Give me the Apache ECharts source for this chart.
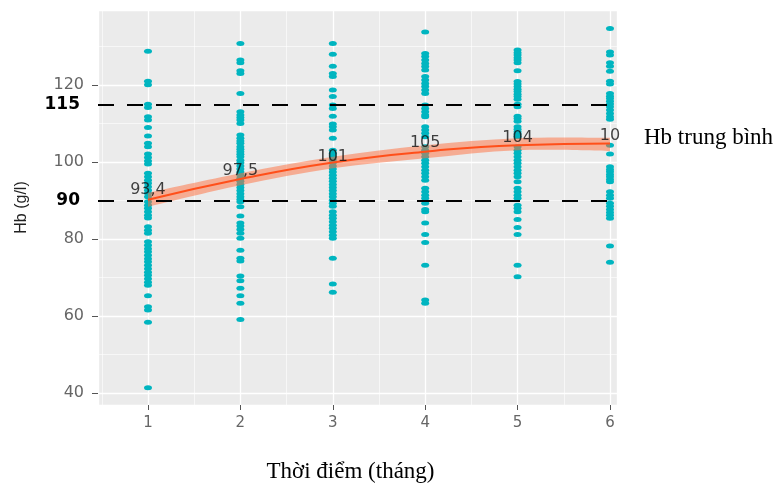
<!DOCTYPE html>
<html>
<head>
<meta charset="utf-8">
<script src="https://cdn.jsdelivr.net/npm/echarts@6/dist/echarts.min.js"></script>
<style>
  html, body { margin: 0; padding: 0; background: #fff; }
  #main { width: 779px; height: 484px; }
</style>
</head>
<body>
<div id="main"></div>
<script>
// thoi diem (thang)
var timePoints = [1, 2, 3, 4, 5, 6];

// Hb cua tung benh nhan o moi thoi diem (g/l)
var hb1 = [128.8, 121.0, 120.1, 115.0, 114.2, 111.8, 110.9, 109.0, 106.8, 104.9, 104.0, 102.1, 101.2, 100.3, 99.5,
    97.1, 96.2, 95.3, 94.5, 93.6, 92.7, 91.9, 91.0, 89.7, 88.8, 88.0, 87.1, 86.2, 85.5, 83.2, 82.3, 81.5,
    79.3, 78.4, 77.5, 76.7, 75.8, 74.9, 74.1, 73.2, 72.3, 71.4, 70.6, 69.7, 68.8, 68.0, 65.3, 62.4, 61.6, 58.4, 41.4];
var hb2 = [130.8, 126.5, 125.8, 123.7, 123.0, 117.8, 113.1, 112.2, 111.6, 110.9, 110.0, 107.0, 106.2, 105.5, 104.9,
    104.0, 103.3, 102.7, 102.0, 101.4, 100.5, 99.8, 99.0, 98.2, 97.4, 96.6, 95.8, 95.0, 94.2, 93.4, 92.6, 91.8,
    91.0, 90.3, 89.7, 88.4, 86.0, 84.2, 83.4, 82.5, 81.5, 80.2, 77.1, 75.0, 74.3, 70.4, 69.2, 67.2, 65.3, 63.3, 59.1];
var hb3 = [130.8, 128.0, 124.9, 123.0, 122.2, 118.7, 117.0, 114.8, 113.9, 111.9, 109.9, 109.2, 108.3, 106.2, 103.1,
    102.3, 101.4, 100.6, 99.8, 99.0, 98.2, 97.4, 96.6, 95.8, 95.0, 94.2, 93.4, 92.6, 91.8, 91.0, 90.1, 89.3, 88.5,
    87.1, 86.2, 85.4, 84.5, 83.6, 82.8, 81.9, 81.0, 80.2, 75.0, 68.3, 66.2];
var hb4 = [133.8, 128.2, 127.4, 126.5, 125.6, 124.8, 123.9, 122.2, 121.3, 120.4, 119.6, 118.7, 117.8, 114.8, 113.9,
    113.1, 112.2, 111.8, 109.2, 108.3, 107.5, 106.6, 104.0, 103.1, 102.3, 101.4, 100.5, 99.7, 98.8, 97.9, 97.1,
    96.2, 95.3, 93.2, 92.3, 91.4, 90.6, 89.3, 87.7, 87.1, 84.2, 81.2, 79.1, 73.2, 64.2, 63.3];
var hb5 = [129.1, 128.4, 127.8, 127.1, 126.5, 125.8, 123.7, 120.9, 120.3, 119.6, 118.9, 118.3, 117.6, 117.0, 116.3,
    115.0, 114.4, 111.9, 111.3, 110.6, 109.2, 108.5, 107.9, 107.3, 106.6, 104.0, 103.1, 102.3, 101.4, 100.5, 99.7,
    98.8, 97.9, 97.1, 96.2, 94.9, 93.2, 92.3, 91.4, 90.6, 88.8, 88.0, 87.1, 85.1, 83.0, 81.2, 73.2, 70.2];
var hb6 = [134.7, 128.6, 127.8, 125.8, 124.9, 123.6, 121.0, 120.3, 117.8, 117.1, 116.5, 115.8, 115.1, 114.4, 113.5,
    112.6, 111.8, 111.1, 104.4, 102.1, 98.8, 98.1, 97.5, 96.8, 96.2, 95.5, 94.9, 92.3, 91.4, 90.6, 89.3, 88.5,
    87.7, 86.9, 86.2, 85.4, 78.2, 74.0];

// duong Hb trung binh va khoang tin cay
var meanHb = [90.2, 95.6, 99.9, 102.7, 104.4, 104.8];
var ciLower = [88.4, 94.0, 98.4, 101.0, 103.1, 102.9];
var ciUpper = [92.0, 97.1, 101.4, 104.4, 106.2, 106.3];

// nhan gia tri trung binh
var meanLabels = ['93,4', '97,5', '101', '105', '104', '10'];
var meanLabelY = [92.8, 97.8, 101.3, 104.9, 106.3, 106.7];

// nguong tham chieu
var refLines = [115, 90];

var hbByTime = [hb1, hb2, hb3, hb4, hb5, hb6];
var pointData = [];
hbByTime.forEach(function (arr, i) {
    arr.forEach(function (v) {
        pointData.push([timePoints[i], v]);
    });
});

function pairs(xs, ys) {
    return xs.map(function (x, i) { return [x, ys[i]]; });
}

// duong cong Catmull-Rom qua cac diem pixel -> doan lenh SVG
function curveCmds(p) {
    var s = '';
    for (var i = 0; i < p.length - 1; i++) {
        var p0 = p[Math.max(i - 1, 0)], p1 = p[i], p2 = p[i + 1], p3 = p[Math.min(i + 2, p.length - 1)];
        var c1x = p1[0] + (p2[0] - p0[0]) / 6, c1y = p1[1] + (p2[1] - p0[1]) / 6;
        var c2x = p2[0] - (p3[0] - p1[0]) / 6, c2y = p2[1] - (p3[1] - p1[1]) / 6;
        s += ' C' + c1x + ',' + c1y + ' ' + c2x + ',' + c2y + ' ' + p2[0] + ',' + p2[1];
    }
    return s;
}

var myChart = echarts.init(document.getElementById('main'));

var option = {
    animation: false,
    grid: {
        left: 98,
        right: 162,
        top: 10,
        bottom: 79,
        outerBoundsMode: 'none',
        show: true,
        backgroundColor: '#EBEBEB',
        borderWidth: 0
    },
    xAxis: {
        type: 'value',
        min: 0.459,
        max: 6.076,
        name: 'Thời điểm (tháng)',
        nameLocation: 'middle',
        nameGap: 55,
        nameTextStyle: {
            fontFamily: 'Liberation Serif',
            fontSize: 23,
            color: '#000',
            padding: [0, 14, 0, 0]
        },
        axisLine: { show: false },
        axisTick: { show: true, length: 5, lineStyle: { color: '#555' } },
        axisLabel: {
            color: '#666',
            fontFamily: 'DejaVu Sans',
            fontSize: 15,
            margin: 11,
            showMinLabel: false,
            showMaxLabel: false,
            formatter: function (v) { return Number.isInteger(v) ? String(v) : ''; }
        },
        splitLine: { show: true, lineStyle: { color: '#fff', width: 1.3 } },
        minorTick: { show: false, splitNumber: 2 },
        minorSplitLine: { show: true, lineStyle: { color: '#fff', width: 0.6 } }
    },
    yAxis: {
        type: 'value',
        min: 36.9,
        max: 139.5,
        name: 'Hb (g/l)',
        nameLocation: 'middle',
        nameRotate: 90,
        nameGap: 68,
        nameTextStyle: {
            fontFamily: 'Liberation Sans',
            fontSize: 16,
            color: '#222'
        },
        axisLine: { show: false },
        axisTick: { show: true, length: 6, lineStyle: { color: '#555' } },
        axisLabel: {
            color: '#666',
            fontFamily: 'DejaVu Sans',
            fontSize: 16,
            margin: 14,
            showMinLabel: false,
            showMaxLabel: false,
            formatter: function (v) { return v % 20 === 0 ? String(v) : ''; }
        },
        splitLine: { show: true, lineStyle: { color: '#fff', width: 1.3 } },
        minorTick: { show: false, splitNumber: 2 },
        minorSplitLine: { show: true, lineStyle: { color: '#fff', width: 0.6 } }
    },
    graphic: [{
        type: 'text',
        left: 644,
        top: 126,
        style: {
            text: 'Hb trung bình',
            fontFamily: 'Liberation Serif',
            fontSize: 23,
            fill: '#000'
        }
    }],
    series: [
        {
            name: 'Hb',
            type: 'scatter',
            data: pointData,
            symbol: 'circle',
            symbolSize: [8, 5],
            itemStyle: { color: '#00B5C0', opacity: 1 },
            z: 2,
            markLine: {
                silent: true,
                symbol: 'none',
                lineStyle: { type: [16, 13], color: '#000', width: 2 },
                label: {
                    show: true,
                    position: 'start',
                    distance: 18,
                    color: '#000',
                    fontFamily: 'DejaVu Sans',
                    fontWeight: 'bold',
                    fontSize: 17,
                    formatter: function (p) { return String(p.value); }
                },
                data: refLines.map(function (v) { return { yAxis: v }; })
            }
        },
        {
            // khoang tin cay: dai to mau giua ciLower va ciUpper
            name: 'ciBand',
            type: 'custom',
            data: pairs(timePoints, meanHb),
            z: 3,
            renderItem: function (params, api) {
                if (params.dataIndex !== 0) return;
                var up = timePoints.map(function (x, i) { return api.coord([x, ciUpper[i]]); });
                var lo = timePoints.map(function (x, i) { return api.coord([x, ciLower[i]]); }).reverse();
                var d = 'M' + up[0][0] + ',' + up[0][1] + curveCmds(up)
                    + ' L' + lo[0][0] + ',' + lo[0][1] + curveCmds(lo) + ' Z';
                return {
                    type: 'path',
                    shape: { pathData: d },
                    style: { fill: 'rgba(255,110,60,0.5)', stroke: null }
                };
            }
        },
        {
            name: 'Hb trung bình',
            type: 'line',
            data: pairs(timePoints, meanHb),
            smooth: true,
            symbol: 'none',
            lineStyle: { color: '#FF4F1A', width: 2 },
            z: 4
        },
        {
            name: 'labels',
            type: 'scatter',
            data: meanLabelY.map(function (y, i) {
                return { value: [timePoints[i], y], name: meanLabels[i] };
            }),
            symbolSize: 1,
            itemStyle: { color: 'transparent' },
            label: {
                show: true,
                position: 'inside',
                formatter: '{b}',
                color: '#111',
                fontFamily: 'DejaVu Sans',
                fontSize: 16
            },
            z: 5
        }
    ]
};

myChart.setOption(option);
</script>
</body>
</html>
